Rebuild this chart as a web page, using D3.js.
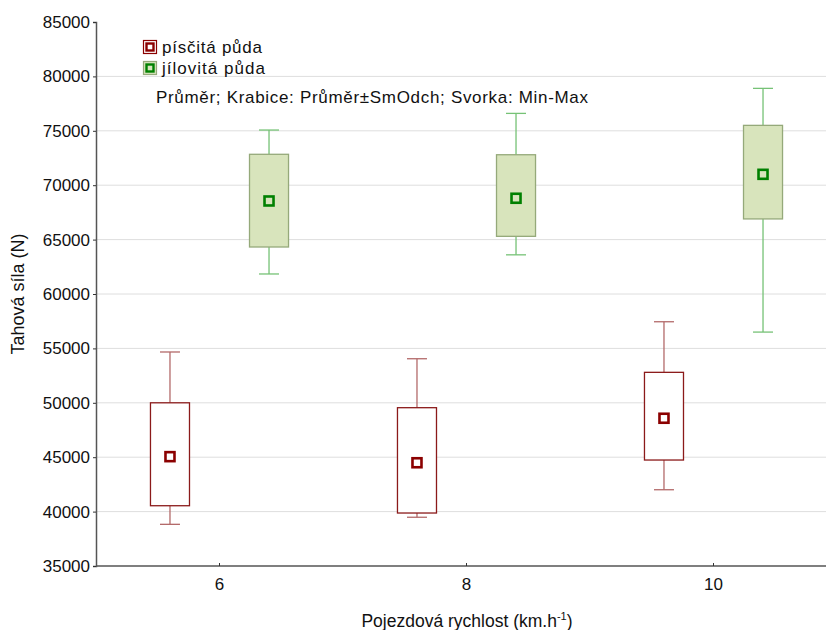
<!DOCTYPE html>
<html><head><meta charset="utf-8">
<script src="https://cdn.jsdelivr.net/npm/d3@7"></script>
<style>body{margin:0;background:#fff}svg{display:block;font-family:"Liberation Sans",Arial,sans-serif}</style>
</head><body><svg id="c" width="826" height="630"></svg>
<script>
const categories = [6, 8, 10];
const series = ["písčitá půda", "jílovitá půda"];
// sand (písčitá)
const sandMean = [45050, 44490, 48580];
const sandLow  = [40540, 39870, 44740];
const sandHigh = [50000, 49550, 52800];
const sandMin  = [38830, 39480, 42010];
const sandMax  = [54670, 54050, 57450];
// clay (jílovitá)
const clayMean = [68550, 68800, 71000];
const clayLow  = [64320, 65300, 66900];
const clayHigh = [72840, 72800, 75500];
const clayMin  = [61840, 63600, 56500];
const clayMax  = [75070, 76600, 78900];
const yTicks = [35000, 40000, 45000, 50000, 55000, 60000, 65000, 70000, 75000, 80000, 85000];

const svg = d3.select("#c");
const L = 96, R = 837, T = 22, B = 566;
const x0 = d3.scaleBand().domain(categories).range([L, R]).padding(0);
const x1 = d3.scaleBand().domain(series).range([0, x0.bandwidth()]).paddingInner(0.606).paddingOuter(0.55);
const y = d3.scaleLinear().domain([35000, 85000]).range([B, T]);

// grid
svg.append("g").selectAll("line").data(yTicks.filter(d => d > 35000 && d < 85000)).join("line")
  .attr("x1", L).attr("x2", 826).attr("y1", d => y(d)).attr("y2", d => y(d))
  .attr("stroke", "#dedede").attr("stroke-width", 1);

// axes
const ya = svg.append("g").attr("transform", `translate(${L},0)`)
  .call(d3.axisLeft(y).tickValues(yTicks).tickSize(3).tickPadding(3).tickFormat(d3.format("d")));
ya.select(".domain").attr("stroke", "#555").attr("stroke-width", 1.5);
ya.selectAll(".tick line").attr("stroke", "#333");
ya.selectAll("text").attr("font-size", 17).attr("fill", "#111").attr("font-family", "Liberation Sans, Arial, sans-serif");

const xa = svg.append("g").attr("transform", `translate(0,${B})`)
  .call(d3.axisBottom(x0).tickSize(0).tickPadding(12));
xa.select(".domain").attr("d", `M${L},0H826`).attr("stroke", "#555").attr("stroke-width", 1.5);
xa.selectAll(".tick").append("line").attr("y1", 0).attr("y2", -3).attr("stroke", "#333");
xa.selectAll("text").attr("font-size", 17).attr("fill", "#111").attr("font-family", "Liberation Sans, Arial, sans-serif");

const styles = {
  "písčitá půda": {boxFill: "#ffffff", boxStroke: "#8b1a1a", whisk: "#b36a6a", mean: "#8b0000", meanFill: "#ffffff"},
  "jílovitá půda": {boxFill: "#d8e4bc", boxStroke: "#95a97a", whisk: "#76c276", mean: "#008000", meanFill: "#d8e4bc"}
};
const sets = [
  {name: series[0], mean: sandMean, lo: sandLow, hi: sandHigh, mn: sandMin, mx: sandMax},
  {name: series[1], mean: clayMean, lo: clayLow, hi: clayHigh, mn: clayMin, mx: clayMax}
];
const bw = x1.bandwidth();
sets.forEach(s => {
  const st = styles[s.name];
  const g = svg.append("g");
  categories.forEach((c, i) => {
    const xl = x0(c) + x1(s.name), xc = xl + bw / 2;
    const mx = y(s.mx[i]), hi = y(s.hi[i]), lo = y(s.lo[i]), mn = y(s.mn[i]), me = y(s.mean[i]);
    g.append("line").attr("x1", xc).attr("x2", xc).attr("y1", mx).attr("y2", hi).attr("stroke", st.whisk).attr("stroke-width", 1.3);
    g.append("line").attr("x1", xc).attr("x2", xc).attr("y1", lo).attr("y2", mn).attr("stroke", st.whisk).attr("stroke-width", 1.3);
    g.append("line").attr("x1", xc - 10).attr("x2", xc + 10).attr("y1", mx).attr("y2", mx).attr("stroke", st.whisk).attr("stroke-width", 1.3);
    g.append("line").attr("x1", xc - 10).attr("x2", xc + 10).attr("y1", mn).attr("y2", mn).attr("stroke", st.whisk).attr("stroke-width", 1.3);
    g.append("rect").attr("x", xl).attr("y", hi).attr("width", bw).attr("height", lo - hi)
      .attr("fill", st.boxFill).attr("stroke", st.boxStroke).attr("stroke-width", 1.3);
    g.append("rect").attr("x", xc - 4.5).attr("y", me - 4.5).attr("width", 9).attr("height", 9)
      .attr("fill", st.meanFill).attr("stroke", st.mean).attr("stroke-width", 2.6);
  });
});

// legend
const lg = svg.append("g");
sets.forEach((s, i) => {
  const st = styles[s.name];
  const ly = 40 + i * 21;
  lg.append("rect").attr("x", 143.5).attr("y", ly + 0.5).attr("width", 13).attr("height", 13)
    .attr("fill", st.boxFill).attr("stroke", i === 0 ? "#8b0000" : "#95a97a").attr("stroke-width", 1.2);
  lg.append("rect").attr("x", 146.5).attr("y", ly + 3.5).attr("width", 7).attr("height", 7)
    .attr("fill", st.meanFill).attr("stroke", st.mean).attr("stroke-width", 2.4);
  lg.append("text").attr("x", 162).attr("y", ly + 13).attr("font-size", 17).attr("fill", "#111")
    .attr("textLength", i === 0 ? 100 : 103).text(s.name);
});
svg.append("text").attr("x", 156).attr("y", 103).attr("font-size", 17).attr("fill", "#111")
  .attr("textLength", 432)
  .text("Průměr; Krabice: Průměr±SmOdch; Svorka: Min-Max");

// axis titles
svg.append("text").attr("transform", "translate(24,294) rotate(-90)").attr("text-anchor", "middle")
  .attr("font-size", 18).attr("fill", "#111").text("Tahová síla (N)");
const xt = svg.append("text").attr("x", 467).attr("y", 627).attr("text-anchor", "middle")
  .attr("font-size", 17.5).attr("fill", "#111");
xt.append("tspan").text("Pojezdová rychlost (km.h");
xt.append("tspan").attr("dy", -7).attr("font-size", 11).text("-1");
xt.append("tspan").attr("dy", 7).text(")");
</script></body></html>
